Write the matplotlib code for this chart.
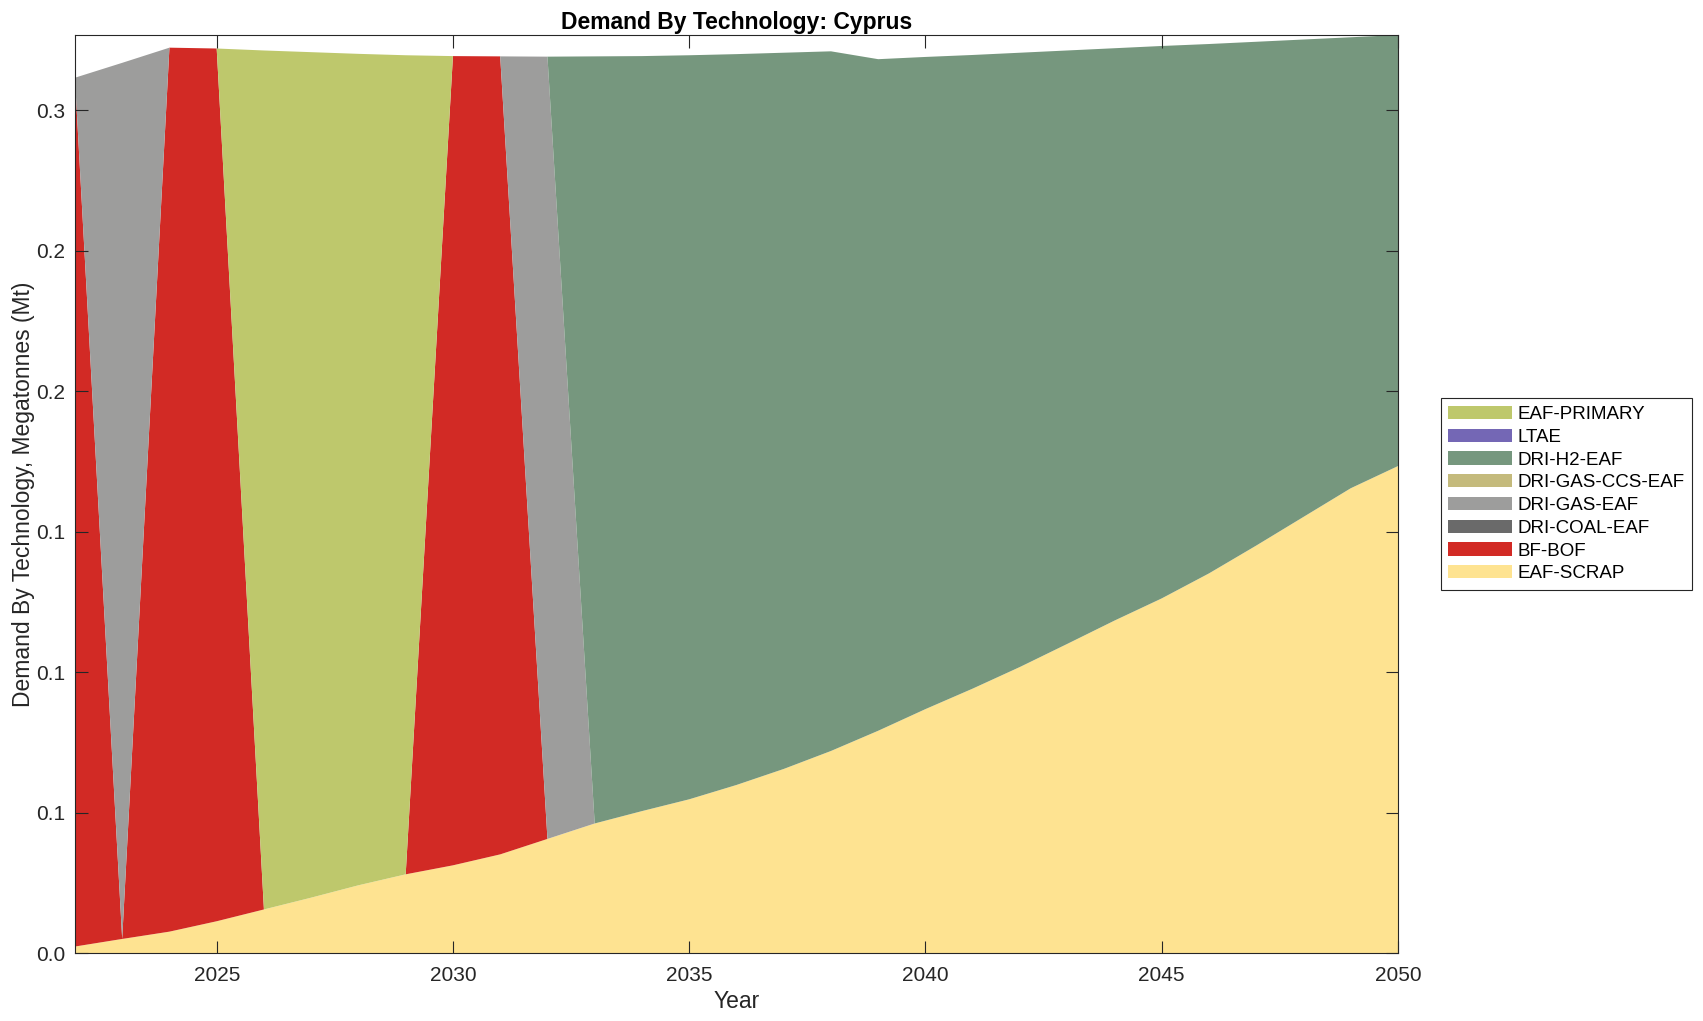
import numpy as np
import matplotlib
matplotlib.use('Agg')
import matplotlib.pyplot as plt
from matplotlib.ticker import FormatStrFormatter

plt.rcParams['font.family'] = ['Liberation Sans', 'DejaVu Sans']

years = list(range(2022, 2051))

# values (Mt)
eaf_scrap = [0.0023, 0.0050, 0.0076, 0.0113, 0.0155, 0.0197, 0.0241, 0.0280, 0.0312, 0.0351,
             0.0406, 0.0461, 0.0505, 0.0547, 0.0598, 0.0655, 0.0719, 0.0791, 0.0868, 0.0941,
             0.1018, 0.1100, 0.1183, 0.1262, 0.1351, 0.1450, 0.1552, 0.1654, 0.1733]
bf_bof = [0.3092, 0, 0.3146, 0.3106, 0, 0, 0, 0, 0.2880, 0.2840,
          0, 0, 0, 0, 0, 0, 0, 0, 0, 0,
          0, 0, 0, 0, 0, 0, 0, 0, 0]
dri_coal_eaf = [0] * 29
dri_gas_eaf = [0, 0.3118, 0, 0, 0, 0, 0, 0, 0, 0,
               0.2784, 0, 0, 0, 0, 0, 0, 0, 0, 0,
               0, 0, 0, 0, 0, 0, 0, 0, 0]
dri_gas_ccs_eaf = [0] * 29
dri_h2_eaf = [0, 0, 0, 0, 0, 0, 0, 0, 0, 0,
              0, 0.2730, 0.2687, 0.2648, 0.2601, 0.2549, 0.2490, 0.2390, 0.2321, 0.2255,
              0.2186, 0.2112, 0.2037, 0.1966, 0.1884, 0.1793, 0.1699, 0.1605, 0.1534]
ltae = [0] * 29
eaf_primary = [0, 0, 0, 0, 0.3057, 0.3009, 0.2959, 0.2915, 0, 0,
               0, 0, 0, 0, 0, 0, 0, 0, 0, 0,
               0, 0, 0, 0, 0, 0, 0, 0, 0]

labels = ['EAF-SCRAP', 'BF-BOF', 'DRI-COAL-EAF', 'DRI-GAS-EAF',
          'DRI-GAS-CCS-EAF', 'DRI-H2-EAF', 'LTAE', 'EAF-PRIMARY']
colors = ['#FEE391', '#D22A25', '#6A6A6A', '#9D9D9C',
          '#C4BA7C', '#76977E', '#7467B5', '#BEC86C']

series = [eaf_scrap, bf_bof, dri_coal_eaf, dri_gas_eaf,
          dri_gas_ccs_eaf, dri_h2_eaf, ltae, eaf_primary]

fig = plt.figure(figsize=(17.03, 10.21), dpi=100)
ax = fig.add_axes([0.0440, 0.0666, 0.7769, 0.8991])

# 堆叠面积图
ax.stackplot(years, *series, labels=labels, colors=colors, linewidth=0)

total = np.sum(np.array(series, dtype=float), axis=0)
ax.set_xlim(2022, 2050)
ax.set_ylim(0, total.max())

ax.set_xticks([2025, 2030, 2035, 2040, 2045, 2050])
ax.set_yticks([0, 0.05, 0.1, 0.15, 0.2, 0.25, 0.3])
ax.yaxis.set_major_formatter(FormatStrFormatter('%.1f'))

dark = '#262626'
ax.tick_params(direction='in', top=True, right=True, length=9, width=0.8,
               labelsize=15, colors=dark, pad=7)
ax.tick_params(axis='x', pad=9)
for sp in ax.spines.values():
    sp.set_color(dark)
    sp.set_linewidth(0.8)

ax.set_title('Demand By Technology: Cyprus', fontsize=16.5, fontweight='bold', pad=4)
ax.set_xlabel('Year', fontsize=16.5, color=dark, labelpad=4)
ax.set_ylabel('Demand By Technology, Megatonnes (Mt)', fontsize=16.5, color=dark, labelpad=1)

# 图例放在右侧
handles, labs = ax.get_legend_handles_labels()
leg = fig.legend(handles[::-1], labs[::-1], loc='center left',
                 bbox_to_anchor=(0.846, 0.516), fontsize=13.5,
                 frameon=True, fancybox=False, edgecolor=dark, framealpha=1,
                 handlelength=3.4, handleheight=0.7, labelspacing=0.3,
                 borderpad=0.4, handletextpad=0.3, borderaxespad=0)
leg.get_frame().set_linewidth(0.8)

plt.savefig('out.png', dpi=100)
